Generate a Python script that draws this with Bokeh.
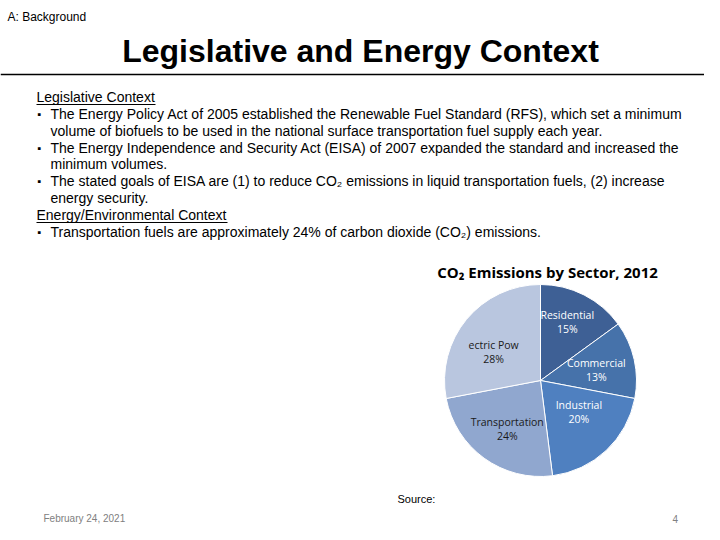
import math
from bokeh.plotting import figure
from bokeh.models import Range1d, ColumnDataSource
from bokeh.core.properties import value
from bokeh.embed import file_html
from bokeh.resources import INLINE

# ---- data ----
sectors = ["Residential", "Commercial", "Industrial", "Transportation", "ectric Pow"]
shares = [15, 13, 20, 24, 28]
colors = ["#3E6095", "#4672AA", "#4F80C0", "#90A7CF", "#B9C6DF"]
label_colors = ["white", "white", "white", "#1a1a1a", "#1a1a1a"]
pie_title = "CO\u2082 Emissions by Sector, 2012"

# label nudges in screen pixels (dx right, dy down) -- layout only
nudge_x = [-2, -6, -5, 4, 2]
nudge_y = [-2, 3, -15, -3, 12]

W, H = 704, 524
p = figure(width=W, height=H, output_backend="svg", toolbar_location=None,
           x_range=Range1d(0, W), y_range=Range1d(540 - H, 540),
           min_border=0, background_fill_color="white", border_fill_color="white")
p.axis.visible = False
p.grid.visible = False
p.outline_line_color = None

def Y(sy):
    return 540 - sy

ARIAL = value("Liberation Sans")
CAL = value("Open Sans")

# header
p.text(x=[7], y=[Y(16)], text=["A: Background"], text_font=ARIAL, text_font_size="12px",
       text_baseline="middle", text_color="black")
p.text(x=[360], y=[Y(50)], text=["Legislative and Energy Context"], text_font=ARIAL,
       text_font_size="32px", text_font_style="bold", text_align="center",
       text_baseline="middle", text_color="black")
p.segment(x0=[0], y0=[Y(74)], x1=[720], y1=[Y(74)], line_color="black", line_width=1.5)

# body text
fs = "14px"
lines = [
    (36, 96, "Legislative Context", False),
    (50, 113, "The Energy Policy Act of 2005 established the Renewable Fuel Standard (RFS), which set a minimum", True),
    (50, 130, "volume of biofuels to be used in the national surface transportation fuel supply each year.", False),
    (50, 147, "The Energy Independence and Security Act (EISA) of 2007 expanded the standard and increased the", True),
    (50, 163, "minimum volumes.", False),
    (50, 180, "The stated goals of EISA are (1) to reduce CO\u2082 emissions in liquid transportation fuels, (2) increase", True),
    (50, 197, "energy security.", False),
    (36, 214, "Energy/Environmental Context", False),
    (50, 231, "Transportation fuels are approximately 24% of carbon dioxide (CO\u2082) emissions.", True),
]
p.text(x=[l[0] for l in lines], y=[Y(l[1]) for l in lines], text=[l[2] for l in lines],
       text_font=ARIAL, text_font_size=fs, text_baseline="middle", text_color="black")
bul = [l for l in lines if l[3]]
p.text(x=[37] * len(bul), y=[Y(l[1]) for l in bul], text=["\u25aa"] * len(bul),
       text_font=ARIAL, text_font_size="11px", text_baseline="middle", text_color="black")
# underlines
p.segment(x0=[36, 36], y0=[Y(104), Y(222)], x1=[155, 227], y1=[Y(104), Y(222)],
          line_color="black", line_width=1)

# pie
cx, cy, r = 540, Y(380), 96
total = float(sum(shares))
starts, ends, lx, ly = [], [], [], []
cum = 0.0
for i, s in enumerate(shares):
    a0 = math.pi / 2 - 2 * math.pi * cum / total
    a1 = math.pi / 2 - 2 * math.pi * (cum + s) / total
    starts.append(a0)
    ends.append(a1)
    mid = (a0 + a1) / 2
    lx.append(cx + 0.66 * r * math.cos(mid) + nudge_x[i])
    ly.append(cy + 0.66 * r * math.sin(mid) - nudge_y[i])
    cum += s
src = ColumnDataSource(dict(start=starts, end=ends, color=colors, name=sectors,
                            pct=[f"{s}%" for s in shares], lx=lx, ly=ly,
                            lyn=[v + 7 for v in ly], lyp=[v - 7 for v in ly],
                            tc=label_colors))
p.wedge(x=cx, y=cy, radius=r, start_angle="start", end_angle="end", direction="clock",
        fill_color="color", line_color="white", line_width=1, source=src)
p.text(x="lx", y="lyn", text="name", text_color="tc", text_font=CAL, text_font_size="10.5px",
       text_align="center", text_baseline="middle", source=src)
p.text(x="lx", y="lyp", text="pct", text_color="tc", text_font=CAL, text_font_size="10.5px",
       text_align="center", text_baseline="middle", source=src)
p.text(x=[547], y=[Y(271)], text=[pie_title], text_font=CAL, text_font_size="15px",
       text_font_style="bold", text_align="center", text_baseline="middle", text_color="black")

# footer
p.text(x=[397], y=[Y(498)], text=["Source:"], text_font=ARIAL, text_font_size="11px",
       text_baseline="middle", text_color="black")
p.text(x=[43], y=[Y(518)], text=["February 24, 2021"], text_font=ARIAL, text_font_size="10px",
       text_baseline="middle", text_color="#808080")
p.text(x=[672], y=[Y(518)], text=["4"], text_font=ARIAL, text_font_size="10px",
       text_baseline="middle", text_color="#808080")

open("out.html", "w").write(file_html(p, INLINE))
